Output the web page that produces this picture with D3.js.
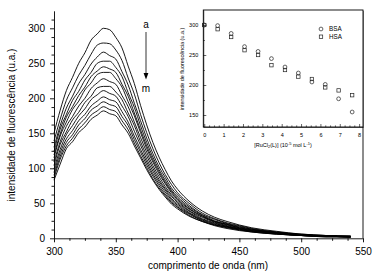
<!DOCTYPE html>
<html>
<head>
<meta charset="utf-8">
<script src="https://cdn.jsdelivr.net/npm/d3@7"></script>
<style>
  body { margin: 0; background: #fff; }
  text { font-family: "Liberation Sans", Arial, sans-serif; fill: #000; }
  .axis path, .axis line { stroke: #000; }
</style>
</head>
<body>
<div id="chart"></div>
<script>
// Emission spectra, curves a..m (intensity, u.a.)
const wavelengths = [300,305,310,315,320,325,330,335,340,345,350,355,360,365,370,375,380,385,390,395,400,410,420,430,440,450,460,480,500,520,540];
const curveA = [150,183,211,230,250,265,283,292,300,298,287,272,246,221,190,162,137,116,98,82,70,52,39,30,24,19,15,10,6,4,3];
const curveB = [139,170,197,215,233,247,263,276,279,278,269,254,229,206,177,151,128,108,91,77,65,49,36,28,22,18,14,9,6,4,3];
const curveC = [130,161,186,203,221,234,249,259,266,261,256,238,219,193,168,143,121,102,87,72,62,46,34,27,21,17,13,9,5,4,3];
const curveD = [124,156,177,197,210,226,237,250,253,253,244,231,208,187,161,137,116,98,83,69,59,44,33,25,20,16,13,8,5,3,3];
const curveE = [119,149,173,188,204,216,231,239,245,242,237,220,203,179,155,132,112,95,80,67,57,42,32,24,20,15,12,8,5,3,2];
const curveF = [115,146,166,184,196,212,222,234,237,237,228,216,195,175,151,128,109,92,78,65,55,41,31,24,19,15,12,8,5,3,2];
const curveG = [109,138,160,174,189,200,214,222,228,224,220,204,188,166,144,123,104,88,74,62,53,39,30,23,18,14,11,8,5,3,2];
const curveH = [104,134,152,169,180,194,203,215,217,217,209,198,179,161,138,118,100,84,71,60,51,38,28,22,17,14,11,7,4,3,2];
const curveI = [99,127,148,161,175,185,198,205,211,207,203,189,174,153,133,113,96,81,69,57,49,36,27,21,17,13,10,7,4,3,2];
const curveJ = [94,122,142,154,168,177,189,196,202,198,195,181,166,146,127,109,92,78,66,55,47,35,26,20,16,13,10,7,4,3,2];
const curveK = [90,117,137,148,162,171,183,189,195,191,188,174,161,141,123,105,89,75,63,53,45,34,25,19,16,12,10,6,4,3,2];
const curveL = [86,113,132,143,156,165,176,182,188,184,181,168,155,136,118,101,85,72,61,51,44,32,24,19,15,12,9,6,4,2,2];
const curveM = [83,106,128,138,151,159,170,176,182,178,175,162,150,132,115,98,83,70,59,49,42,31,24,18,14,11,9,6,4,2,2];
const spectra = [curveA, curveB, curveC, curveD, curveE, curveF, curveG, curveH, curveI, curveJ, curveK, curveL, curveM];

// Inset: intensity vs. [RuCl2(L)]
const concentrations = [0, 0.69, 1.39, 2.08, 2.78, 3.47, 4.17, 4.86, 5.56, 6.25, 6.94, 7.64];
const bsaValues = [300, 299, 286, 264, 256, 244, 230, 220, 205, 201, 177, 155];
const hsaValues = [300, 293, 280, 258, 250, 233, 225, 214, 210, 196, 191, 183];

const xTicks = [300, 350, 400, 450, 500, 550];
const yTicks = [0, 50, 100, 150, 200, 250, 300];
const insetXTicks = [0, 1, 2, 3, 4, 5, 6, 7, 8];
const insetYTicks = [150, 200, 250, 300];

const W = 381, H = 275;
const svg = d3.select("#chart").append("svg")
    .attr("width", W)
    .attr("height", H);

// Main scales
const x = d3.scaleLinear().domain([300, 550]).range([54, 363]);
const y = d3.scaleLinear().domain([0, 325]).range([238.3, 10.8]);

// Curves
const line = d3.line()
    .x((d, i) => x(wavelengths[i]))
    .y(d => y(d))
    .curve(d3.curveMonotoneX);

svg.append("g")
    .selectAll("path")
    .data(spectra)
    .enter()
    .append("path")
    .attr("d", line)
    .attr("fill", "none")
    .attr("stroke", "#000")
    .attr("stroke-width", 0.9);

// Main axes
const gx = svg.append("g")
    .attr("class", "axis")
    .attr("transform", `translate(0,${y(0)})`)
    .call(d3.axisBottom(x).tickValues(xTicks).tickSize(4).tickSizeOuter(0).tickPadding(6));
gx.append("g")
    .call(d3.axisBottom(x).tickValues(d3.range(312.5, 550, 12.5).filter(v => v % 50 !== 0)).tickSize(2.5).tickFormat(""))
    .select(".domain").remove();

const gy = svg.append("g")
    .attr("class", "axis")
    .attr("transform", `translate(${x(300)},0)`)
    .call(d3.axisLeft(y).tickValues(yTicks).tickSize(4).tickSizeOuter(0).tickPadding(5));
gy.append("g")
    .call(d3.axisLeft(y).tickValues(d3.range(12.5, 325, 12.5).filter(v => v % 50 !== 0)).tickSize(2.5).tickFormat(""))
    .select(".domain").remove();

svg.selectAll(".axis text").style("font-size", "10px");
svg.selectAll(".axis path, .axis line").attr("stroke-width", 0.9);

// Right border
svg.append("line")
    .attr("x1", x(550)).attr("x2", x(550))
    .attr("y1", y(0)).attr("y2", y(325))
    .attr("stroke", "#000")
    .attr("stroke-width", 0.9);

// Axis titles
svg.append("text")
    .attr("transform", "rotate(-90)")
    .attr("x", -125)
    .attr("y", 15)
    .attr("text-anchor", "middle")
    .style("font-size", "10px")
    .text("intensidade de fluorescência (u.a.)");

svg.append("text")
    .attr("x", 208)
    .attr("y", 269)
    .attr("text-anchor", "middle")
    .style("font-size", "10px")
    .text("comprimento de onda (nm)");

// a -> m arrow
svg.append("text")
    .attr("x", 146).attr("y", 27.5)
    .attr("text-anchor", "middle")
    .style("font-size", "10px")
    .text("a");
svg.append("line")
    .attr("x1", 146).attr("x2", 146)
    .attr("y1", 32).attr("y2", 76)
    .attr("stroke", "#000").attr("stroke-width", 0.8);
svg.append("path")
    .attr("d", "M143.6,73 L148.4,73 L146,79.5 Z")
    .attr("fill", "#000");
svg.append("text")
    .attr("x", 146).attr("y", 91.5)
    .attr("text-anchor", "middle")
    .style("font-size", "10px")
    .text("m");

// Inset
const ix = d3.scaleLinear().domain([-0.05, 8.2]).range([203.3, 363]);
const iy = d3.scaleLinear().domain([130, 325]).range([127, 10]);

const inset = svg.append("g");
inset.append("rect")
    .attr("x", ix(-0.05)).attr("y", iy(325))
    .attr("width", ix(8.2) - ix(-0.05))
    .attr("height", iy(130) - iy(325))
    .attr("fill", "#fff")
    .attr("stroke", "#000")
    .attr("stroke-width", 0.9);

const igx = inset.append("g")
    .attr("class", "axis inset-axis")
    .attr("transform", `translate(0,${iy(130)})`)
    .call(d3.axisBottom(ix).tickValues(insetXTicks).tickSize(-3).tickSizeOuter(0).tickPadding(6));
igx.append("g")
    .call(d3.axisBottom(ix).tickValues(d3.range(0.25, 8.2, 0.25).filter(v => v % 1 !== 0)).tickSize(-1.6).tickFormat(""))
    .select(".domain").remove();

const igy = inset.append("g")
    .attr("class", "axis inset-axis")
    .attr("transform", `translate(${ix(-0.05)},0)`)
    .call(d3.axisLeft(iy).tickValues(insetYTicks).tickSize(-3).tickSizeOuter(0).tickPadding(5));
igy.append("g")
    .call(d3.axisLeft(iy).tickValues([175, 225, 275]).tickSize(-1.6).tickFormat(""))
    .select(".domain").remove();

inset.selectAll(".inset-axis text").style("font-size", "5.5px");
inset.selectAll(".inset-axis path, .inset-axis line").attr("stroke-width", 0.6);

inset.append("text")
    .attr("transform", "rotate(-90)")
    .attr("x", -69)
    .attr("y", 184)
    .attr("text-anchor", "middle")
    .style("font-size", "5.4px")
    .text("intensidade de fluorescência (u.a.)");

const xl = inset.append("text")
    .attr("x", 283)
    .attr("y", 146.5)
    .attr("text-anchor", "middle")
    .style("font-size", "5.5px");
xl.append("tspan").text("[RuCl");
xl.append("tspan").attr("dy", 1.5).style("font-size", "4px").text("2");
xl.append("tspan").attr("dy", -1.5).text("(L)] (10");
xl.append("tspan").attr("dy", -2).style("font-size", "4px").text("-5");
xl.append("tspan").attr("dy", 2).text(" mol L");
xl.append("tspan").attr("dy", -2).style("font-size", "4px").text("-1");
xl.append("tspan").attr("dy", 2).text(")");

// Inset markers
inset.append("g")
    .selectAll("circle")
    .data(bsaValues)
    .enter()
    .append("circle")
    .attr("cx", (d, i) => ix(concentrations[i]))
    .attr("cy", d => iy(d))
    .attr("r", 1.9)
    .attr("fill", "none")
    .attr("stroke", "#222")
    .attr("stroke-width", 0.7);

inset.append("g")
    .selectAll("rect")
    .data(hsaValues)
    .enter()
    .append("rect")
    .attr("x", (d, i) => ix(concentrations[i]) - 1.7)
    .attr("y", d => iy(d) - 1.7)
    .attr("width", 3.4)
    .attr("height", 3.4)
    .attr("fill", "none")
    .attr("stroke", "#222")
    .attr("stroke-width", 0.7);

// Legend
inset.append("circle")
    .attr("cx", 321).attr("cy", 29).attr("r", 1.9)
    .attr("fill", "none").attr("stroke", "#222").attr("stroke-width", 0.7);
inset.append("text")
    .attr("x", 329).attr("y", 31.3)
    .style("font-size", "6.3px")
    .text("BSA");
inset.append("rect")
    .attr("x", 321 - 1.7).attr("y", 36.7 - 1.7).attr("width", 3.4).attr("height", 3.4)
    .attr("fill", "none").attr("stroke", "#222").attr("stroke-width", 0.7);
inset.append("text")
    .attr("x", 329).attr("y", 39)
    .style("font-size", "6.3px")
    .text("HSA");
</script>
</body>
</html>
